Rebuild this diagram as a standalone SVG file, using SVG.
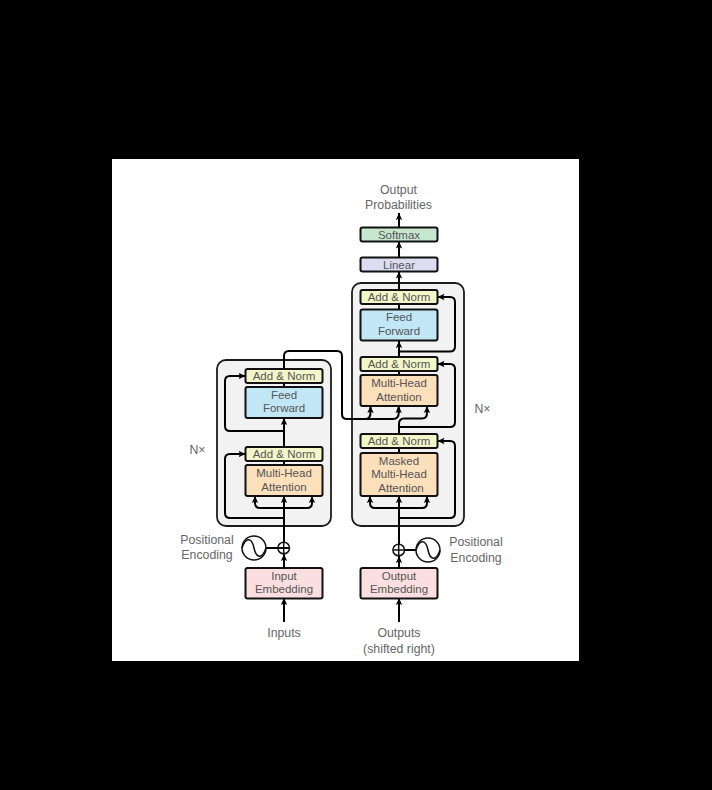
<svg xmlns="http://www.w3.org/2000/svg" width="712" height="790" viewBox="0 0 712 790">
<style>
text{font-family:"Liberation Sans",Arial,sans-serif;font-size:11.5px;fill:#555;text-anchor:middle}
.lbl{font-size:12.3px;fill:#666}
.panel{fill:#f2f2f2;stroke:#1c1c1c;stroke-width:1.8}
.box{stroke:#111;stroke-width:2}
.an{fill:#f3f6c9}.ff{fill:#c1e7f6}.mh{fill:#fcdfbb}.em{fill:#fbdfe0}.sm{fill:#c7e7cf}.li{fill:#dcddf1}
.c{fill:none;stroke:#000;stroke-width:2;stroke-linejoin:round}
.a{marker-end:url(#arrow)}
.sym{fill:none;stroke:#111;stroke-width:1.5}
</style>
<defs>
<marker id="arrow" markerUnits="userSpaceOnUse" markerWidth="9" markerHeight="9" refX="7" refY="4" orient="auto">
<path d="M0 0.800L7 4L0 7.200L1.500 4Z" fill="#000"/>
</marker>
</defs>
<rect id="background" x="0" y="0" width="712" height="790" fill="#000"/>
<rect id="page" x="112" y="159" width="467" height="502" fill="#fff"/>
<g id="encoder-panel"><rect class="panel" x="217" y="360" width="114" height="166" rx="9"/></g>
<g id="decoder-panel"><rect class="panel" x="352" y="283" width="112" height="243" rx="9"/></g>
<g id="connectors">
<path class="c a" d="M284 622V598"/>
<path class="c a" d="M284 568V554"/>
<path class="c a" d="M284 542V496"/>
<path class="c" d="M284 465V461"/>
<path class="c a" d="M284 447V418"/>
<path class="c" d="M284 387V383"/>
<path class="c" d="M284 369V356Q284 351 289 351H337Q342 351 342 356V414Q342 419 347 419H393Q398.700 419 398.700 413V408"/>
<path class="c a" d="M398.700 413V406"/>
<path class="c a" d="M347 419H365Q370.500 419 370.500 413V406"/>
<path class="c a" d="M284 518H230Q225 518 225 513V459Q225 454 230 454H245.500"/>
<path class="c a" d="M284 431H230Q225 431 225 426V381Q225 376 230 376H245.500"/>
<path class="c a" d="M260 508Q255 508 255 503V496"/>
<path class="c a" d="M260 508H307Q312 508 312 503V496"/>
<path class="c a" d="M399 622V598"/>
<path class="c a" d="M399 568V556"/>
<path class="c a" d="M399 544V496"/>
<path class="c" d="M399 453V448"/>
<path class="c" d="M399 434V424Q399 418.500 404 418.500H422Q427 418.500 427 413V408"/>
<path class="c a" d="M427 413V406"/>
<path class="c" d="M399 375V371"/>
<path class="c a" d="M399 357V341"/>
<path class="c" d="M399 309V304"/>
<path class="c a" d="M399 290V271.500"/>
<path class="c a" d="M399 257V241.500"/>
<path class="c a" d="M399 227.500V213"/>
<path class="c a" d="M375 508Q370 508 370 503V496"/>
<path class="c a" d="M375 508H422Q427 508 427 503V496"/>
<path class="c a" d="M399 518H450Q455 518 455 513V446Q455 441 450 441H437.500"/>
<path class="c a" d="M399 427H450Q455 427 455 422V369Q455 364 450 364H437.500"/>
<path class="c a" d="M399 351.500H450Q455 351.500 455 346.500V302Q455 297 450 297H437.500"/>
<path class="c" d="M289.500 548H266"/>
<path class="c" d="M404.500 550H416"/>
</g>
<g id="enc-add-norm-2"><rect class="box an" x="245.500" y="369" width="77" height="14" rx="2"/><text x="284" y="380">Add &amp; Norm</text></g>
<g id="enc-feed-forward"><rect class="box ff" x="245.500" y="387" width="77" height="31" rx="2"/><text x="284" y="399">Feed</text><text x="284" y="412">Forward</text></g>
<g id="enc-add-norm-1"><rect class="box an" x="245.500" y="447" width="77" height="14" rx="2"/><text x="284" y="458">Add &amp; Norm</text></g>
<g id="enc-attention"><rect class="box mh" x="245.500" y="465" width="77" height="31" rx="2"/><text x="284" y="477">Multi-Head</text><text x="284" y="491">Attention</text></g>
<g id="input-embedding"><rect class="box em" x="245.500" y="568" width="77" height="30.500" rx="2"/><text x="284" y="580">Input</text><text x="284" y="593">Embedding</text></g>
<g id="enc-adder"><circle class="sym" cx="283.700" cy="548" r="5.800" fill="#fff"/><path class="sym" d="M277.900 548H289.500M283.700 542.200V553.800"/></g>
<g id="enc-positional"><circle class="sym" cx="254" cy="548" r="12"/><path class="sym" d="M242 548C246 536 252 538 254 548C256 558 262 560 266 548"/></g>
<g id="dec-softmax"><rect class="box sm" x="360.500" y="227.500" width="77" height="14" rx="2"/><text x="399" y="238.500">Softmax</text></g>
<g id="dec-linear"><rect class="box li" x="360.500" y="257.500" width="77" height="14" rx="2"/><text x="399" y="268.500">Linear</text></g>
<g id="dec-add-norm-3"><rect class="box an" x="360.500" y="290" width="77" height="14" rx="2"/><text x="399" y="301">Add &amp; Norm</text></g>
<g id="dec-feed-forward"><rect class="box ff" x="360.500" y="309.500" width="77" height="31" rx="2"/><text x="399" y="321">Feed</text><text x="399" y="335">Forward</text></g>
<g id="dec-add-norm-2"><rect class="box an" x="360.500" y="357" width="77" height="14" rx="2"/><text x="399" y="368">Add &amp; Norm</text></g>
<g id="dec-attention"><rect class="box mh" x="360.500" y="375" width="77" height="31" rx="2"/><text x="399" y="387">Multi-Head</text><text x="399" y="401">Attention</text></g>
<g id="dec-add-norm-1"><rect class="box an" x="360.500" y="434" width="77" height="14" rx="2"/><text x="399" y="445">Add &amp; Norm</text></g>
<g id="dec-masked-attention"><rect class="box mh" x="360.500" y="453" width="77" height="43" rx="2"/><text x="399" y="464.500">Masked</text><text x="399" y="478">Multi-Head</text><text x="401" y="491.500">Attention</text></g>
<g id="output-embedding"><rect class="box em" x="360.500" y="568" width="77" height="30.500" rx="2"/><text x="399" y="580">Output</text><text x="399" y="593">Embedding</text></g>
<g id="dec-adder"><circle class="sym" cx="398.700" cy="550" r="5.800" fill="#fff"/><path class="sym" d="M392.900 550H404.500M398.700 544.200V555.800"/></g>
<g id="dec-positional"><circle class="sym" cx="428" cy="550" r="12"/><path class="sym" d="M416 550C420 538 426 540 428 550C430 560 436 562 440 550"/></g>
<g id="labels">
<text class="lbl" x="398.500" y="194">Output</text>
<text class="lbl" x="398.500" y="209">Probabilities</text>
<text class="lbl" x="197.500" y="454">N×</text>
<text class="lbl" x="482.500" y="413">N×</text>
<text class="lbl" x="207" y="544">Positional</text>
<text class="lbl" x="207" y="559">Encoding</text>
<text class="lbl" x="476" y="546">Positional</text>
<text class="lbl" x="476" y="562">Encoding</text>
<text class="lbl" x="284" y="637">Inputs</text>
<text class="lbl" x="399" y="637">Outputs</text>
<text class="lbl" x="399" y="653">(shifted right)</text>
</g>
</svg>
